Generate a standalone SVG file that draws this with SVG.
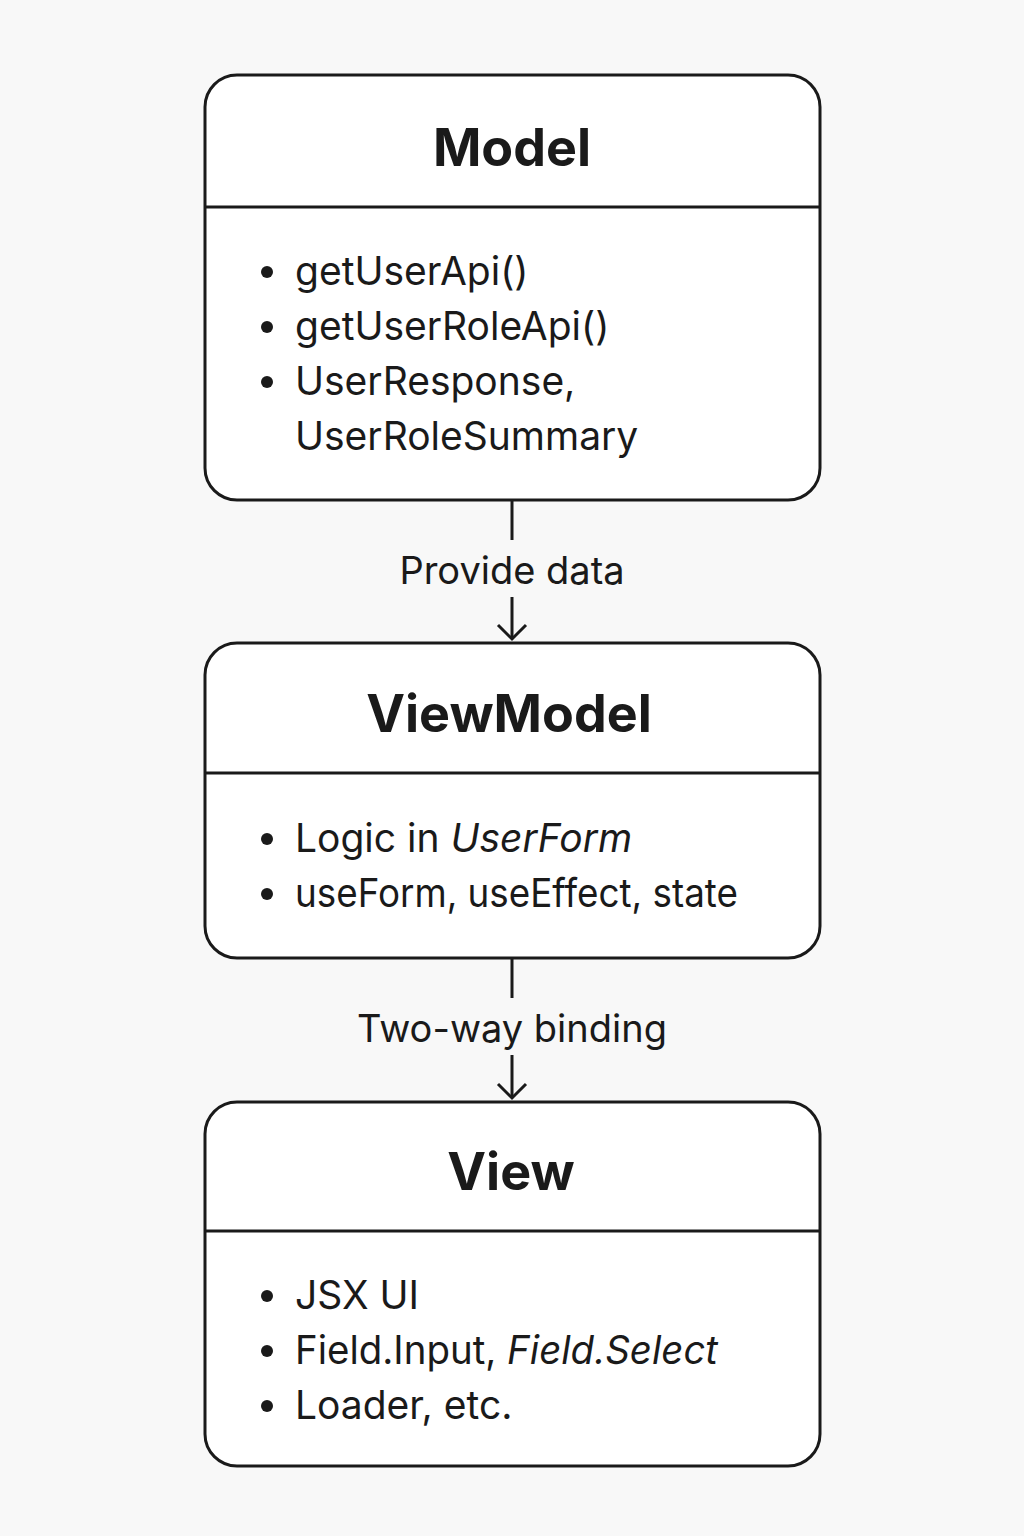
<svg xmlns="http://www.w3.org/2000/svg" width="1024" height="1536" viewBox="0 0 1024 1536">
<defs>
<style>
.box{fill:#ffffff;stroke:#1a1a1a;stroke-width:3}
.div{stroke:#1a1a1a;stroke-width:3}
.title{font-family:Inter,"Noto Sans",sans-serif;font-weight:700;font-size:52px;fill:#1a1a1a;text-anchor:middle}
.item{font-family:Inter,"Noto Sans",sans-serif;font-size:39px;fill:#1a1a1a}
.lbl{font-family:Inter,"Noto Sans",sans-serif;font-size:38px;fill:#1a1a1a;text-anchor:middle}
.bul{fill:#1a1a1a}
.conn{stroke:#1a1a1a;stroke-width:3;fill:none}
.head{stroke:#1a1a1a;stroke-width:3;fill:none;stroke-linejoin:miter}
</style>
</defs>
<rect width="1024" height="1536" fill="#f8f8f8"/>
<g id="connectors">
<line class="conn" x1="512" y1="501" x2="512" y2="540"/>
<line class="conn" x1="512" y1="597" x2="512" y2="639"/>
<path class="head" d="M498 625 L512 639 L526 625"/>
<text class="lbl" x="512" y="584">Provide data</text>
<line class="conn" x1="512" y1="959" x2="512" y2="998"/>
<line class="conn" x1="512" y1="1055" x2="512" y2="1098"/>
<path class="head" d="M498 1084 L512 1098 L526 1084"/>
<text class="lbl" x="512" y="1042">Two-way binding</text>
</g>
<g id="model">
<rect class="box" x="205" y="75" width="615" height="425" rx="32"/>
<line class="div" x1="205" y1="207" x2="820" y2="207"/>
<text class="title" x="512" y="166">Model</text>
<circle class="bul" cx="267" cy="272" r="6"/>
<text class="item" x="295" y="285">getUserApi()</text>
<circle class="bul" cx="267" cy="327" r="6"/>
<text class="item" x="295" y="340">getUserRoleApi()</text>
<circle class="bul" cx="267" cy="382" r="6"/>
<text class="item" x="295" y="395">UserResponse,</text>
<text class="item" x="295" y="450">UserRoleSummary</text>
</g>
<g id="viewmodel">
<rect class="box" x="205" y="643" width="615" height="315" rx="32"/>
<line class="div" x1="205" y1="773" x2="820" y2="773"/>
<text class="title" x="509" y="732">ViewModel</text>
<circle class="bul" cx="267" cy="839" r="6"/>
<text class="item" x="295" y="852">Logic in <tspan font-style="italic">UserForm</tspan></text>
<circle class="bul" cx="267" cy="894" r="6"/>
<text class="item" x="295" y="907" textLength="443" lengthAdjust="spacingAndGlyphs">useForm, useEffect, state</text>
</g>
<g id="view">
<rect class="box" x="205" y="1102" width="615" height="364" rx="32"/>
<line class="div" x1="205" y1="1231" x2="820" y2="1231"/>
<text class="title" x="511" y="1190">View</text>
<circle class="bul" cx="267" cy="1296" r="6"/>
<text class="item" x="295" y="1309">JSX UI</text>
<circle class="bul" cx="267" cy="1351" r="6"/>
<text class="item" x="295" y="1364" textLength="423" lengthAdjust="spacingAndGlyphs">Field.Input, <tspan font-style="italic">Field.Select</tspan></text>
<circle class="bul" cx="267" cy="1406" r="6"/>
<text class="item" x="295" y="1419">Loader, etc.</text>
</g>
</svg>
